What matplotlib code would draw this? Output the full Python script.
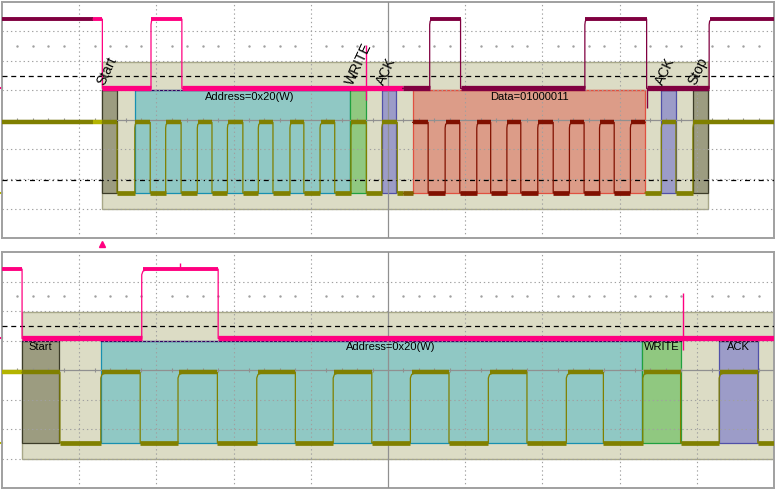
import matplotlib.pyplot as plt
from matplotlib.patches import Rectangle

plt.rcParams['font.family'] = ['Liberation Sans', 'DejaVu Sans']

# levels in screen divisions (10 across, 8 up)
sda_hi, sda_lo = 7.42, 5.07
scl_hi, scl_lo = 3.92, 1.53

# upper view: the whole I2C frame
top_sda_edges = [1.30, 1.93, 2.33, 5.54, 5.94, 7.55, 8.35, 9.16]
top_scl_edges = [1.49, 1.72, 1.92, 2.12, 2.32, 2.53, 2.72, 2.92, 3.12, 3.32,
                 3.51, 3.73, 3.91, 4.12, 4.31, 4.52, 4.72, 4.92, 5.12, 5.32,
                 5.52, 5.74, 5.93, 6.15, 6.33, 6.54, 6.72, 6.94, 7.14, 7.35,
                 7.54, 7.74, 7.93, 8.14, 8.33, 8.54, 8.73, 8.95]
top_glitches = [(4.72, 4.68, 6.54), (8.35, 4.41, 5.07)]
top_sda_colors = [(0.0, 1.18, '#800040'), (1.18, 5.19, '#ff0080'), (5.19, 10.0, '#800040')]
top_scl_colors = [(0.0, 1.18, '#808000'), (1.18, 1.30, '#b4b400'), (1.30, 5.19, '#808000'),
                  (5.19, 5.32, '#806000'), (5.32, 8.33, '#801000'), (8.33, 10.0, '#808000')]
top_band = (1.30, 9.14)
top_fields = [('Start', 1.30, 1.49), ('Address=0x20(W)', 1.72, 4.51), ('WRITE', 4.51, 4.72),
              ('ACK', 4.92, 5.11), ('Data=01000011', 5.33, 8.33), ('ACK', 8.53, 8.73),
              ('Stop', 8.95, 9.14)]

# lower view: zoom on the address byte
bot_sda_edges = [0.26, 1.81, 2.80]
bot_scl_edges = [0.75, 1.28, 1.79, 2.28, 2.79, 3.30, 3.80, 4.29, 4.79, 5.29,
                 5.79, 6.30, 6.80, 7.31, 7.79, 8.30, 8.79, 9.29, 9.79]
bot_glitches = [(8.82, 4.68, 6.61), (2.31, 7.42, 7.63)]
bot_sda_colors = [(0.0, 10.0, '#ff0080')]
bot_scl_colors = [(0.0, 0.26, '#b4b400'), (0.26, 10.0, '#808000')]
bot_band = (0.26, 10.2)
bot_fields = [('Start', 0.26, 0.74), ('Address=0x20(W)', 1.28, 8.29),
              ('WRITE', 8.29, 8.79), ('ACK', 9.29, 9.79)]

field_style = {
    'Start': ('#9c9c80', '#3c3c28'),
    'Stop': ('#9c9c80', '#3c3c28'),
    'Address': ('#90c8c4', '#1890b0'),
    'WRITE': ('#90c880', '#20a040'),
    'ACK': ('#9c9cc8', '#5050a8'),
    'Data': ('#dc9c88', '#e05040'),
}


def wave(edges, hi, lo, a, b, knee):
    level = hi
    for e in edges:
        if e <= a:
            level = lo if level == hi else hi
    xs, ys, flats = [a], [level], []
    start = a
    for e in edges:
        if a < e < b:
            flats.append((start, e, level))
            if level == hi:
                xs += [e, e]
                ys += [hi, lo]
                level, start = lo, e
            else:
                sw = hi - lo
                xs += [e, e, e + 0.2 * knee, e + knee]
                ys += [lo, lo + 0.92 * sw, lo + 0.97 * sw, hi]
                level, start = hi, e + 0.2 * knee
    flats.append((start, b, level))
    xs.append(b)
    ys.append(level)
    return xs, ys, flats


def draw_trace(ax, edges, hi, lo, spans, knee, lw_hi, lw_lo, z):
    for a, b, c in spans:
        xs, ys, flats = wave(edges, hi, lo, a, b, knee)
        ax.plot(xs, ys, color=c, lw=0.9, zorder=z)
        for x0, x1, lev in flats:
            if x1 > x0:
                ax.plot([x0, x1], [lev, lev], color=c, solid_capstyle='butt',
                        lw=lw_hi if lev == hi else lw_lo, zorder=z)


def draw_panel(ax, sda_edges, scl_edges, sda_colors, scl_colors, glitches,
               band, fields, knee, rotated, dashdot):
    ax.set_xlim(0, 10)
    ax.set_ylim(0, 8)
    ax.set_xticks([])
    ax.set_yticks([])
    for s in ax.spines.values():
        s.set_color('#a0a0a0')
        s.set_linewidth(1.4)

    ax.add_patch(Rectangle((band[0], 0.98), band[1] - band[0], 4.99,
                           facecolor='#dcdcc5', edgecolor='#a8a888', lw=1.0, zorder=1))
    for label, s, e in fields:
        key = label.split('=')[0]
        fc, ec = field_style[key]
        ax.add_patch(Rectangle((s, 1.515), e - s, 5.0 - 1.515,
                               facecolor=fc, edgecolor=ec, lw=0.9, zorder=2))
        top_col = '#300060' if key == 'Address' else ('#e05040' if key == 'Data' else '#101030')
        ax.plot([s, e], [5.0, 5.0], color=top_col, lw=0.9, zorder=2.1)

    # graticule
    for k in range(1, 10):
        if k != 5:
            ax.axvline(k, color='#a0a0a0', lw=0.8, ls=(0, (1.2, 2.6)), zorder=3)
    for v in range(1, 8):
        if v != 4:
            ax.axhline(v, color='#a0a0a0', lw=0.8, ls=(0, (1.2, 2.6)), zorder=3)
    ax.axvline(5, color='#909090', lw=0.9, zorder=3)
    ax.axhline(4, color='#909090', lw=0.9, zorder=3)
    ticks = [i * 0.2 for i in range(1, 50) if i % 5]
    ax.vlines(ticks, 3.92, 4.08, color='#909090', lw=0.8, zorder=3)
    ax.plot(ticks, [6.5] * len(ticks), ls='none', marker='s', ms=0.7,
            color='#a0a0a0', zorder=3)

    ax.axhline(5.49, color='black', lw=0.9, ls=(0, (4, 3)), zorder=3.5)
    if dashdot:
        ax.axhline(1.98, color='black', lw=0.9, ls=(0, (4, 3, 1, 3)), zorder=3.5)

    draw_trace(ax, scl_edges, scl_hi, scl_lo, scl_colors, knee, 3.2, 3.4, 4)
    draw_trace(ax, sda_edges, sda_hi, sda_lo, sda_colors, knee, 2.8, 3.8, 5)
    for t, y0, y1 in glitches:
        c = '#800040' if (dashdot and t > 5.19) else '#ff0080'
        ax.vlines(t, y0, y1, color=c, lw=1.0, zorder=5)

    # channel markers on the left edge
    ax.plot([-0.03, 0.0], [sda_lo, sda_lo], color='#ff0080', lw=1.5, clip_on=False)
    ax.plot([-0.03, 0.0], [scl_lo, scl_lo], color='#b4b400', lw=1.5, clip_on=False)

    for label, s, e in fields:
        key = label.split('=')[0]
        if rotated and key in ('Start', 'Stop', 'WRITE', 'ACK'):
            ax.text(s + 0.03, 5.15, label, rotation=65, rotation_mode='anchor',
                    ha='left', va='baseline', fontsize=10, zorder=6)
        else:
            x = s + 0.536 * (e - s) if key == 'Address' else (s + e) / 2
            ax.text(x, 4.78, label, ha='center', va='center', fontsize=8, zorder=6)


fig = plt.figure(figsize=(7.76, 4.90), dpi=100)
ax1 = fig.add_axes([2 / 776, 252 / 490, 772 / 776, 236 / 490])
ax2 = fig.add_axes([2 / 776, 2 / 490, 772 / 776, 236 / 490])

draw_panel(ax1, top_sda_edges, top_scl_edges, top_sda_colors, top_scl_colors,
           top_glitches, top_band, top_fields, 0.03, True, True)
draw_panel(ax2, bot_sda_edges, bot_scl_edges, bot_sda_colors, bot_scl_colors,
           bot_glitches, bot_band, bot_fields, 0.08, False, False)

# trigger marker between the two views
ax1.plot(top_sda_edges[0], -0.19, marker='^', ms=5, color='#ff0080', clip_on=False)

fig.savefig('out.png', dpi=100)
